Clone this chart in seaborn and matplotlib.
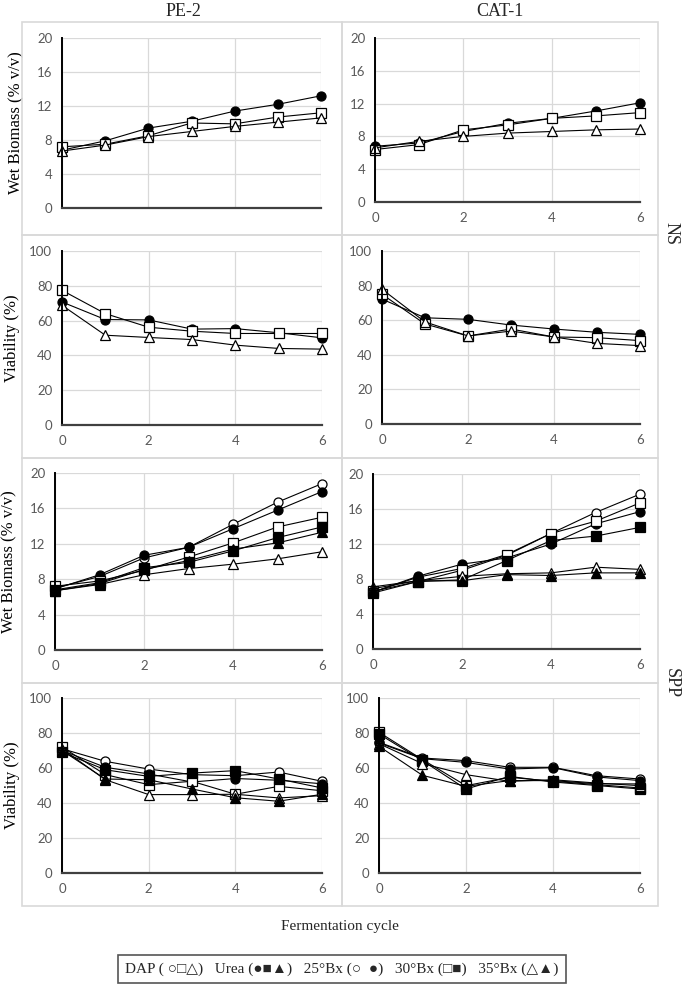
"""
Wet biomass and viability over fermentation cycles, PE-2 vs CAT-1, NS and SPP media.
"""

# %% import modules
import pandas as pd
import matplotlib.pyplot as plt
from matplotlib.patches import Rectangle
import seaborn as sns

# %% data
cycle = [0, 1, 2, 3, 4, 5, 6]

# NS medium, only three treatments shown
ns_pe2_biomass = {
    "Urea 25": [6.8, 7.9, 9.4, 10.2, 11.4, 12.2, 13.2],
    "DAP 30": [7.2, 7.5, 8.5, 10.0, 9.9, 10.7, 11.2],
    "DAP 35": [6.7, 7.4, 8.4, 9.0, 9.6, 10.1, 10.6],
}
ns_cat1_biomass = {
    "Urea 25": [6.8, 7.2, 8.6, 9.6, 10.2, 11.1, 12.1],
    "DAP 30": [6.4, 7.0, 8.8, 9.4, 10.2, 10.5, 10.9],
    "DAP 35": [6.6, 7.4, 8.0, 8.4, 8.6, 8.8, 8.9],
}
ns_pe2_viab = {
    "Urea 25": [70.7, 60.6, 60.4, 55.1, 55.4, 53.0, 50.1],
    "DAP 30": [77.4, 64.0, 56.2, 53.9, 52.6, 52.6, 52.6],
    "DAP 35": [68.8, 51.6, 50.3, 49.1, 45.9, 44.0, 43.6],
}
ns_cat1_viab = {
    "Urea 25": [72.2, 61.4, 60.5, 57.2, 54.9, 53.0, 51.8],
    "DAP 30": [75.0, 57.8, 50.9, 54.9, 50.3, 49.9, 48.2],
    "DAP 35": [77.9, 59.0, 50.9, 53.7, 50.3, 46.6, 45.3],
}

# SPP medium, all six treatments
spp_pe2_biomass = {
    "DAP 25": [7.0, 8.3, 10.4, 11.6, 14.2, 16.7, 18.8],
    "Urea 25": [6.9, 8.5, 10.7, 11.6, 13.7, 15.8, 17.9],
    "DAP 30": [7.2, 7.8, 9.0, 10.5, 12.1, 13.9, 15.0],
    "Urea 30": [6.8, 7.6, 9.3, 9.9, 11.2, 12.7, 13.9],
    "DAP 35": [6.7, 7.4, 8.5, 9.2, 9.7, 10.3, 11.1],
    "Urea 35": [6.7, 7.5, 9.1, 10.1, 11.4, 12.1, 13.3],
}
spp_cat1_biomass = {
    "DAP 25": [6.5, 8.2, 9.2, 10.8, 13.2, 15.6, 17.7],
    "Urea 25": [6.5, 8.3, 9.7, 10.4, 12.0, 14.3, 15.7],
    "DAP 30": [6.6, 7.7, 9.0, 10.7, 13.2, 14.6, 16.7],
    "Urea 30": [6.4, 7.7, 7.9, 10.1, 12.4, 12.9, 13.9],
    "DAP 35": [7.1, 7.8, 8.3, 8.6, 8.7, 9.35, 9.1],
    "Urea 35": [6.9, 7.8, 7.8, 8.5, 8.4, 8.7, 8.7],
}
spp_pe2_viab = {
    "DAP 25": [71.0, 63.8, 59.4, 56.2, 55.6, 57.7, 52.4],
    "Urea 25": [70.0, 60.4, 56.6, 52.0, 54.0, 53.0, 51.0],
    "DAP 30": [72.0, 56.2, 50.5, 52.4, 45.0, 49.5, 47.0],
    "Urea 30": [69.0, 59.0, 55.2, 57.1, 58.5, 53.7, 48.6],
    "DAP 35": [71.0, 53.3, 44.8, 44.8, 45.0, 42.9, 44.2],
    "Urea 35": [70.0, 53.7, 53.3, 48.0, 43.0, 41.0, 45.0],
}
spp_cat1_viab = {
    "DAP 25": [74.7, 65.7, 64.2, 60.4, 60.4, 55.6, 53.7],
    "Urea 25": [74.3, 65.3, 63.2, 59.4, 60.2, 54.9, 52.8],
    "DAP 30": [80.4, 64.8, 49.9, 54.7, 52.4, 50.5, 48.6],
    "Urea 30": [79.4, 64.2, 48.0, 55.2, 52.0, 50.0, 48.0],
    "DAP 35": [73.9, 62.5, 56.2, 52.4, 53.3, 51.4, 49.9],
    "Urea 35": [72.4, 55.8, 49.5, 52.8, 52.8, 51.0, 50.9],
}

marker_style = {
    "DAP 25": ("o", "white"), "Urea 25": ("o", "black"),
    "DAP 30": ("s", "white"), "Urea 30": ("s", "black"),
    "DAP 35": ("^", "white"), "Urea 35": ("^", "black"),
}

# %% figure setup
sns.set_theme(style="white")
plt.rcParams["font.family"] = ["Liberation Serif", "DejaVu Sans"]
W, H = 685, 988
fig = plt.figure(figsize=(W / 100, H / 100), dpi=100)


def px_axes(x0, x1, ytop, ybot):
    return fig.add_axes([x0 / W, 1 - ybot / H, (x1 - x0) / W, (ybot - ytop) / H])


def draw_panel(ax, data, ymax, ystep, xlabels=True):
    for name, vals in data.items():
        m, fc = marker_style[name]
        df = pd.DataFrame({"cycle": cycle, "value": vals})
        sns.lineplot(data=df, x="cycle", y="value", ax=ax, color="black", lw=0.8,
                     marker=m, markersize=6.5 if m != "^" else 7, markerfacecolor=fc,
                     markeredgecolor="black", markeredgewidth=0.9, clip_on=False)
    ax.set_xlim(0, 6)
    ax.set_ylim(0, ymax)
    ax.set_xticks([0, 2, 4, 6])
    ax.set_yticks(range(0, ymax + 1, ystep))
    ax.grid(True, color="#d9d9d9", lw=0.9)
    ax.set_axisbelow(True)
    for s in ["top", "right"]:
        ax.spines[s].set_visible(False)
    ax.spines["left"].set_color("black")
    ax.spines["left"].set_linewidth(1.4)
    ax.spines["bottom"].set_color("#404040")
    ax.spines["bottom"].set_linewidth(1.6)
    ax.set_xlabel("")
    ax.set_ylabel("")
    ax.tick_params(length=0, labelsize=9.5, labelcolor="#595959", pad=7)
    for lab in ax.get_xticklabels() + ax.get_yticklabels():
        lab.set_family("Lato")
    if not xlabels:
        ax.set_xticklabels([])


# panel frames
for ytop, ybot in [(22, 235), (235, 458), (458, 683), (683, 906)]:
    for x0, x1 in [(22, 342), (342, 658)]:
        fig.patches.append(Rectangle((x0 / W, 1 - ybot / H), (x1 - x0) / W, (ybot - ytop) / H,
                                     transform=fig.transFigure, fill=False,
                                     edgecolor="#d9d9d9", lw=1.2))

ax = px_axes(62, 321, 38, 208)
draw_panel(ax, ns_pe2_biomass, 20, 4, xlabels=False)
ax.set_ylabel("Wet Biomass (% v/v)", fontsize=12, color="black", labelpad=9)

ax = px_axes(375, 640, 38, 202)
draw_panel(ax, ns_cat1_biomass, 20, 4)

ax = px_axes(62, 322, 251, 425)
draw_panel(ax, ns_pe2_viab, 100, 20)
ax.set_ylabel("Viability (%)", fontsize=12, color="black", labelpad=7)

ax = px_axes(382, 640, 251, 424)
draw_panel(ax, ns_cat1_viab, 100, 20)

ax = px_axes(55, 322, 473, 650)
draw_panel(ax, spp_pe2_biomass, 20, 4)
ax.set_ylabel("Wet Biomass (% v/v)", fontsize=12, color="black", labelpad=9)

ax = px_axes(373, 640, 474, 649)
draw_panel(ax, spp_cat1_biomass, 20, 4)

ax = px_axes(62, 322, 698, 873)
draw_panel(ax, spp_pe2_viab, 100, 20)
ax.set_ylabel("Viability (%)", fontsize=12, color="black", labelpad=7)

ax = px_axes(379, 640, 698, 873)
draw_panel(ax, spp_cat1_viab, 100, 20)

# %% titles and labels
fig.text(183 / W, 1 - 12 / H, "PE-2", ha="center", va="center", fontsize=13)
fig.text(500 / W, 1 - 12 / H, "CAT-1", ha="center", va="center", fontsize=13)
fig.text(671 / W, 1 - 233 / H, "NS", ha="center", va="center", fontsize=13, rotation=270)
fig.text(671 / W, 1 - 683 / H, "SPP", ha="center", va="center", fontsize=13, rotation=270)
fig.text(340 / W, 1 - 926 / H, "Fermentation cycle", ha="center", va="center", fontsize=11)
fig.text(342 / W, 1 - 969 / H,
         "DAP ( \u25cb\u25a1\u25b3)   Urea (\u25cf\u25a0\u25b2)   25\u00b0Bx (\u25cb  \u25cf)   "
         "30\u00b0Bx (\u25a1\u25a0)   35\u00b0Bx (\u25b3\u25b2)",
         ha="center", va="center", fontsize=11,
         bbox=dict(boxstyle="square,pad=0.45", facecolor="white", edgecolor="#555555", lw=1.2))

fig.savefig("out.png", dpi=100)
plt.close()
